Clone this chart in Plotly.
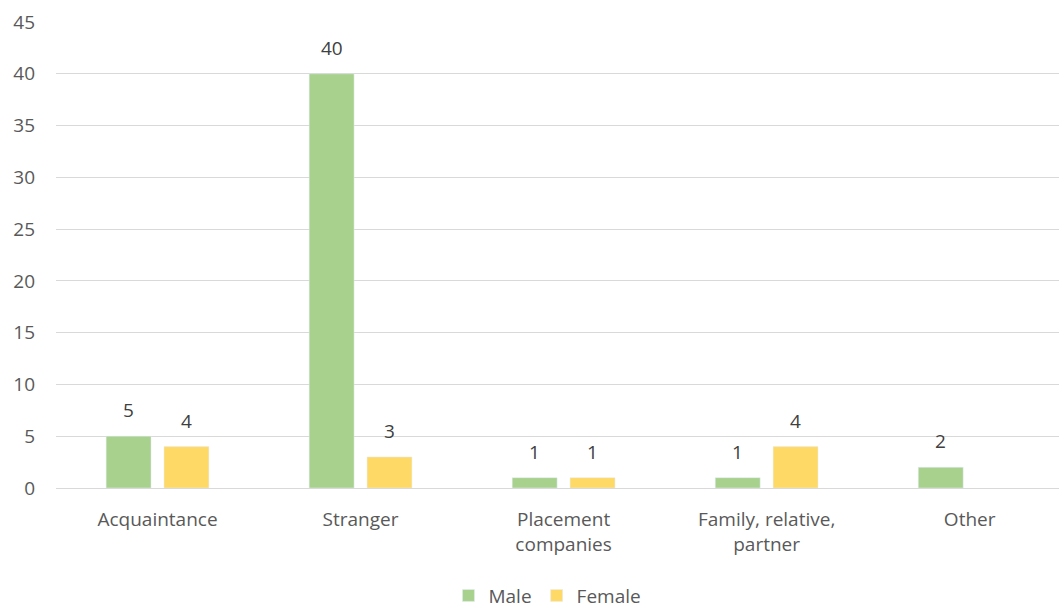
import plotly.graph_objects as go

categories = ["Acquaintance", "Stranger", "Placement<br>companies", "Family, relative,<br>partner", "Other"]
male = [5, 40, 1, 1, 2]
female = [4, 3, 1, 4, None]
y_ticks = [0, 5, 10, 15, 20, 25, 30, 35, 40, 45]

MALE_COLOR = "#A9D18E"
FEMALE_COLOR = "#FFD966"
FONT = "Open Sans"
SIZE = 19

fig = go.Figure()
fig.add_trace(go.Bar(name="Male", x=categories, y=male, marker_color=MALE_COLOR))
fig.add_trace(go.Bar(name="Female", x=categories, y=female, marker_color=FEMALE_COLOR))

# value labels above each bar (offset half a bar slot left/right)
for vals, shift in ((male, -29), (female, 29)):
    for c, v in zip(categories, vals):
        if v is None:
            continue
        fig.add_annotation(x=c, y=v, text=str(v), showarrow=False, yanchor="bottom",
                           xshift=shift, yshift=11,
                           font=dict(family=FONT, size=SIZE, color="#404040"))

fig.update_layout(
    width=1059, height=609,
    margin=dict(l=56, r=0, t=22, b=121, autoexpand=False),
    paper_bgcolor="white", plot_bgcolor="white",
    barmode="group", bargap=0.43, bargroupgap=0.224,
    font=dict(family=FONT, size=SIZE, color="#595959"),
    showlegend=True,
    legend=dict(orientation="h", x=0.49, xanchor="center",
                yref="container", y=0.022, yanchor="middle",
                font=dict(family=FONT, size=SIZE, color="#595959"), itemwidth=30,
                traceorder="normal"),
    xaxis=dict(range=[-0.5, 4.44], showgrid=False, showline=False, ticks="",
               ticklabelstandoff=18, automargin=False),
    yaxis=dict(range=[0, 45], tickvals=y_ticks, showgrid=True, gridcolor="#D9D9D9",
               gridwidth=1.3, zeroline=True, zerolinecolor="#D9D9D9", zerolinewidth=1.3,
               showline=False, ticks="", ticklabelstandoff=20, automargin=False),
)

fig.write_html("out.html")
